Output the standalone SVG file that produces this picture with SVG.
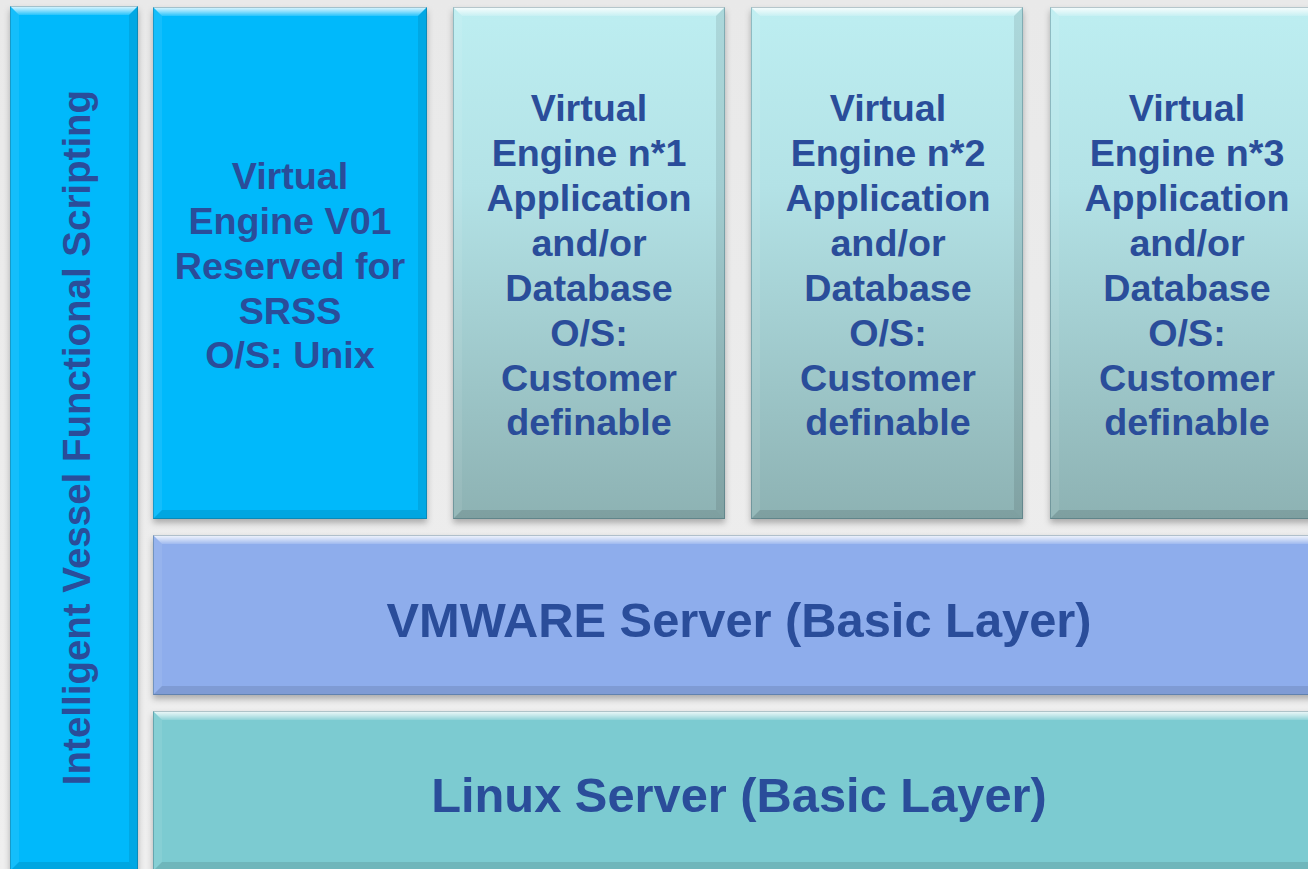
<svg xmlns="http://www.w3.org/2000/svg" width="1308" height="869" viewBox="0 0 1308 869">
<style>
.t{font-family:"Liberation Sans",Arial,sans-serif;font-weight:bold;fill:#2a4d9a;text-anchor:middle}
.s{font-size:37.7px}
.v{font-size:38.5px}
.b{font-size:48.8px}
.hiT{fill:url(#topHi)}
.hiL{fill:#ffffff;fill-opacity:0.08}
.shR{fill:#000000;fill-opacity:0.09}
.shB{fill:#000000;fill-opacity:0.1}
.edge{fill:none;stroke:#1d4a5a;stroke-opacity:0.3;stroke-width:1}
.base{filter:url(#ds)}
</style>
<defs>
<filter id="ds" x="-5%" y="-5%" width="110%" height="115%">
<feDropShadow dx="0" dy="4" stdDeviation="3" flood-color="#000" flood-opacity="0.28"/>
</filter>
<linearGradient id="topHi" x1="0" y1="0" x2="0" y2="1">
<stop offset="0" stop-color="#ffffff" stop-opacity="0.9"/>
<stop offset="0.5" stop-color="#ffffff" stop-opacity="0.55"/>
<stop offset="1" stop-color="#ffffff" stop-opacity="0.15"/>
</linearGradient>
<linearGradient id="ve" x1="0" y1="0" x2="0" y2="1">
<stop offset="0" stop-color="#bdeef1"/>
<stop offset="0.35" stop-color="#b3e2e6"/>
<stop offset="1" stop-color="#8db2b3"/>
</linearGradient>
<linearGradient id="bg" x1="0" y1="0" x2="0" y2="1">
<stop offset="0" stop-color="#e9e9e9"/>
<stop offset="1" stop-color="#efefef"/>
</linearGradient>
</defs>
<rect x="0" y="0" width="1308" height="869" fill="url(#bg)"/>

<g id="scripting">
<rect class="base" x="10" y="6" width="128" height="865" fill="#05b9fb"/>
<polygon class="hiT" points="10,6 138,6 129,15 19,15"/>
<polygon class="hiL" points="10,6 19,15 19,862 10,871"/>
<polygon class="shR" points="138,6 138,871 129,862 129,15"/>
<polygon class="shB" points="10,871 138,871 129,862 19,862"/>
<rect class="edge" x="10.5" y="6.5" width="127" height="864"/>
<text class="t v" transform="translate(90,437.5) rotate(-90)" x="0" y="0">Intelligent Vessel Functional Scripting</text>
</g>

<g id="v01">
<rect class="base" x="153" y="7" width="274" height="512" fill="#05b9fb"/>
<polygon class="hiT" points="153,7 427,7 418,16 162,16"/>
<polygon class="hiL" points="153,7 162,16 162,510 153,519"/>
<polygon class="shR" points="427,7 427,519 418,510 418,16"/>
<polygon class="shB" points="153,519 427,519 418,510 162,510"/>
<rect class="edge" x="153.5" y="7.5" width="273" height="511"/>
<text class="t s"><tspan x="290" y="189">Virtual</tspan><tspan x="290" y="234">Engine V01</tspan><tspan x="290" y="279">Reserved for</tspan><tspan x="290" y="324">SRSS</tspan><tspan x="290" y="368">O/S: Unix</tspan></text>
</g>

<g id="ve1">
<rect class="base" x="453" y="7" width="272" height="512" fill="url(#ve)"/>
<polygon class="hiT" points="453,7 725,7 716,16 462,16"/>
<polygon class="hiL" points="453,7 462,16 462,510 453,519"/>
<polygon class="shR" points="725,7 725,519 716,510 716,16"/>
<polygon class="shB" points="453,519 725,519 716,510 462,510"/>
<rect class="edge" x="453.5" y="7.5" width="271" height="511"/>
<text class="t s"><tspan x="589" y="121">Virtual</tspan><tspan x="589" y="166">Engine n*1</tspan><tspan x="589" y="211">Application</tspan><tspan x="589" y="256">and/or</tspan><tspan x="589" y="301">Database</tspan><tspan x="589" y="346">O/S:</tspan><tspan x="589" y="391">Customer</tspan><tspan x="589" y="435">definable</tspan></text>
</g>

<g id="ve2">
<rect class="base" x="751" y="7" width="272" height="512" fill="url(#ve)"/>
<polygon class="hiT" points="751,7 1023,7 1014,16 760,16"/>
<polygon class="hiL" points="751,7 760,16 760,510 751,519"/>
<polygon class="shR" points="1023,7 1023,519 1014,510 1014,16"/>
<polygon class="shB" points="751,519 1023,519 1014,510 760,510"/>
<rect class="edge" x="751.5" y="7.5" width="271" height="511"/>
<text class="t s"><tspan x="888" y="121">Virtual</tspan><tspan x="888" y="166">Engine n*2</tspan><tspan x="888" y="211">Application</tspan><tspan x="888" y="256">and/or</tspan><tspan x="888" y="301">Database</tspan><tspan x="888" y="346">O/S:</tspan><tspan x="888" y="391">Customer</tspan><tspan x="888" y="435">definable</tspan></text>
</g>

<g id="ve3">
<rect class="base" x="1050" y="7" width="272" height="512" fill="url(#ve)"/>
<polygon class="hiT" points="1050,7 1322,7 1313,16 1059,16"/>
<polygon class="hiL" points="1050,7 1059,16 1059,510 1050,519"/>
<polygon class="shR" points="1322,7 1322,519 1313,510 1313,16"/>
<polygon class="shB" points="1050,519 1322,519 1313,510 1059,510"/>
<rect class="edge" x="1050.5" y="7.5" width="271" height="511"/>
<text class="t s"><tspan x="1187" y="121">Virtual</tspan><tspan x="1187" y="166">Engine n*3</tspan><tspan x="1187" y="211">Application</tspan><tspan x="1187" y="256">and/or</tspan><tspan x="1187" y="301">Database</tspan><tspan x="1187" y="346">O/S:</tspan><tspan x="1187" y="391">Customer</tspan><tspan x="1187" y="435">definable</tspan></text>
</g>

<g id="vmware">
<rect class="base" x="153" y="535" width="1170" height="160" fill="#8eadec"/>
<polygon class="hiT" points="153,535 1323,535 1314,544 162,544"/>
<polygon class="hiL" points="153,535 162,544 162,686 153,695"/>
<polygon class="shR" points="1323,535 1323,695 1314,686 1314,544"/>
<polygon class="shB" points="153,695 1323,695 1314,686 162,686"/>
<rect class="edge" x="153.5" y="535.5" width="1169" height="159"/>
<text class="t b" x="739" y="637">VMWARE Server (Basic Layer)</text>
</g>

<g id="linux">
<rect class="base" x="153" y="711" width="1170" height="160" fill="#7ccbd1"/>
<polygon class="hiT" points="153,711 1323,711 1314,720 162,720"/>
<polygon class="hiL" points="153,711 162,720 162,862 153,871"/>
<polygon class="shR" points="1323,711 1323,871 1314,862 1314,720"/>
<polygon class="shB" points="153,871 1323,871 1314,862 162,862"/>
<rect class="edge" x="153.5" y="711.5" width="1169" height="159"/>
<text class="t b" x="739" y="812">Linux Server (Basic Layer)</text>
</g>

<g id="connectors"></g>
</svg>
